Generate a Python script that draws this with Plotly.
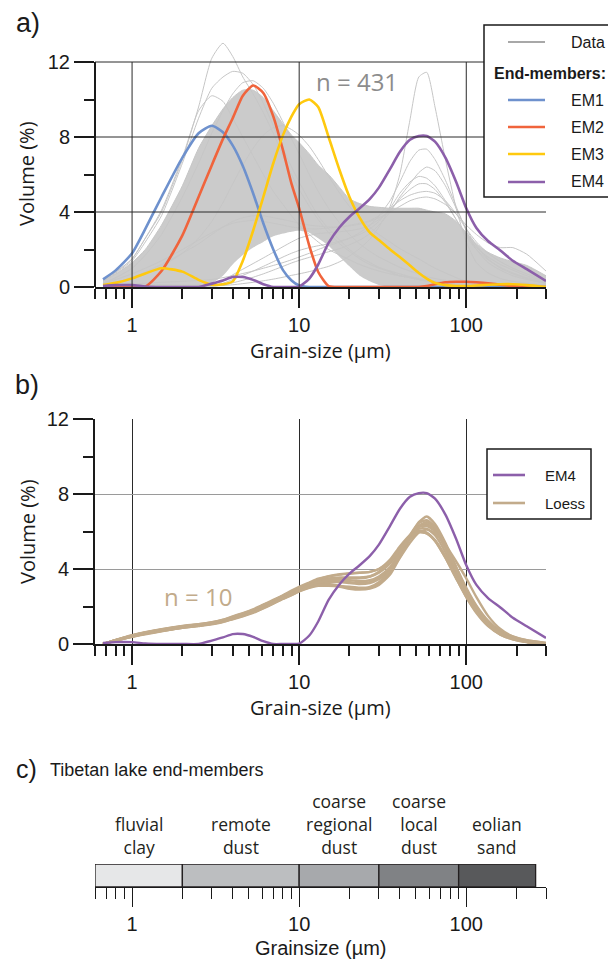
import numpy as np
import plotly.graph_objects as go

# ---------------- data ----------------
GRAIN_UM = [0.67, 0.8, 1.0, 1.2, 1.5, 2.0, 2.5, 3.0, 3.5, 4.0,
            4.6, 5.3, 6.1, 7.0, 8.0, 9.0, 10, 11.5, 13, 15,
            17.5, 20, 23, 26.5, 30, 35, 40, 46, 52, 58,
            65, 75, 87, 100, 115, 135, 160, 190, 230, 300]

EM1 = [0.41, 0.9, 1.8, 3.1, 4.8, 6.9, 8.2, 8.6, 8.25, 7.55,
       6.45, 5.0, 3.4, 2.0, 0.9, 0.35, 0.08, 0, 0, 0,
       0, 0, 0, 0, 0, 0, 0, 0, 0, 0,
       0, 0, 0.02, 0.03, 0.03, 0.02, 0.01, 0, 0, 0]
EM2 = [0, 0, 0, 0.02, 0.85, 2.75, 4.8, 6.5, 7.9, 9.0,
       10.2, 10.75, 10.35, 9.1, 7.3, 5.5, 4.2, 2.2, 0.8, 0.05,
       0, 0, 0, 0, 0, 0, 0, 0, 0, 0.05,
       0.15, 0.25, 0.28, 0.28, 0.25, 0.2, 0.12, 0.05, 0, 0]
EM3 = [0.1, 0.22, 0.46, 0.72, 1.0, 0.82, 0.38, 0.12, 0.15, 0.3,
       1.4, 3.0, 4.8, 6.6, 8.1, 9.1, 9.75, 10.0, 9.6, 8.0,
       6.2, 4.8, 3.7, 2.9, 2.5, 2.0, 1.6, 1.15, 0.75, 0.45,
       0.22, 0.1, 0.05, 0.05, 0.08, 0.12, 0.15, 0.15, 0.1, 0.0]
EM4 = [0.05, 0.1, 0.1, 0.03, 0, 0, 0, 0.18, 0.35, 0.53,
       0.53, 0.38, 0.15, 0, 0, 0, 0.02, 0.45, 1.2, 2.35,
       3.2, 3.75, 4.2, 4.7, 5.3, 6.3, 7.2, 7.85, 8.05, 8.05,
       7.75, 6.9, 5.6, 4.2, 3.15, 2.45, 1.95, 1.4, 0.95, 0.32]

# dense core of the 431 measured samples (upper / lower outline)
DATA_UPPER = [0.3, 0.7, 1.3, 2.0, 3.3, 5.4, 7.4, 8.6, 9.5, 10.1,
              10.5, 10.5, 10.1, 9.4, 8.7, 8.1, 7.7, 7.1, 6.5, 6.0,
              5.3, 4.7, 4.45, 4.3, 4.25, 4.2, 4.2, 4.2, 4.2, 4.1,
              4.0, 3.9, 3.5, 2.9, 2.3, 1.85, 1.55, 1.35, 1.15, 0.6]
DATA_LOWER = [0, 0, 0, 0, 0, 0, 0, 0.2, 0.6, 1.2,
              1.7, 2.1, 2.4, 2.7, 2.85, 2.95, 3.0, 2.9, 2.6, 2.2,
              1.6, 1.1, 0.6, 0.3, 0.1, 0, 0, 0, 0, 0,
              0, 0, 0, 0, 0, 0, 0, 0, 0, 0]
# individual sample curves standing out of the core
SAMPLE_01 = [0.35, 0.8, 1.5, 2.6, 4.0, 6.8, 9.6, 12.2, 13.0, 12.3,
             11.2, 10.3, 9.3, 8.2, 7.0, 6.0, 5.2, 4.3, 3.6, 2.9,
             2.3, 1.9, 1.5, 1.2, 1.0, 0.8, 0.6, 0.5, 0.4, 0.3,
             0.25, 0.2, 0.15, 0.1, 0.05, 0, 0, 0, 0, 0]
SAMPLE_02 = [0.3, 0.75, 1.4, 2.4, 3.8, 6.6, 9.0, 10.6, 11.2, 11.5,
             11.4, 10.8, 9.8, 8.6, 7.4, 6.4, 5.6, 4.6, 3.8, 3.1,
             2.5, 2.0, 1.6, 1.3, 1.05, 0.85, 0.7, 0.55, 0.45, 0.35,
             0.3, 0.2, 0.15, 0.1, 0.05, 0, 0, 0, 0, 0]
SAMPLE_03 = [0.35, 0.8, 1.5, 2.6, 4.1, 6.9, 9.4, 10.2, 9.9, 9.0,
             8.0, 7.0, 6.0, 5.1, 4.4, 3.8, 3.3, 2.8, 2.4, 2.0,
             1.7, 1.45, 1.2, 1.0, 0.85, 0.7, 0.6, 0.5, 0.4, 0.35,
             0.3, 0.25, 0.2, 0.15, 0.1, 0.05, 0, 0, 0, 0]
SAMPLE_04 = [0.2, 0.5, 1.0, 1.7, 2.8, 4.8, 6.6, 8.2, 9.4, 10.3,
             10.9, 11.0, 10.6, 9.8, 8.8, 7.9, 7.1, 6.0, 5.1, 4.2,
             3.4, 2.8, 2.3, 1.9, 1.6, 1.3, 1.05, 0.85, 0.7, 0.55,
             0.45, 0.35, 0.25, 0.15, 0.1, 0.05, 0, 0, 0, 0]
SAMPLE_05 = [0.1, 0.2, 0.4, 0.7, 1.1, 1.8, 2.6, 3.5, 4.5, 5.5,
             6.5, 7.4, 8.1, 8.5, 8.6, 8.4, 8.1, 7.5, 6.8, 5.9,
             5.0, 4.3, 3.7, 3.2, 2.8, 2.4, 2.05, 1.75, 1.5, 1.25,
             1.0, 0.75, 0.5, 0.3, 0.2, 0.1, 0.05, 0, 0, 0]
SAMPLE_06 = [0.05, 0.08, 0.1, 0.12, 0.12, 0.1, 0.1, 0.15, 0.35, 0.65,
             0.95, 1.25, 1.55, 1.85, 2.15, 2.4, 2.6, 2.75, 2.85, 2.9,
             2.95, 3.0, 3.1, 3.3, 3.6, 4.1, 4.7, 5.2, 5.5, 5.5,
             5.2, 4.5, 3.6, 2.8, 2.1, 1.6, 1.2, 0.9, 0.6, 0.3]
SAMPLE_07 = [0.03, 0.05, 0.07, 0.08, 0.08, 0.07, 0.06, 0.08, 0.2, 0.4,
             0.62, 0.85, 1.1, 1.35, 1.6, 1.8, 1.95, 2.1, 2.2, 2.3,
             2.45, 2.6, 2.8, 3.1, 3.5, 4.2, 5.0, 5.6, 5.9, 5.8,
             5.4, 4.6, 3.6, 2.7, 2.0, 1.45, 1.05, 0.75, 0.5, 0.25]
SAMPLE_08 = [0.02, 0.03, 0.04, 0.05, 0.05, 0.05, 0.04, 0.05, 0.1, 0.22,
             0.36, 0.52, 0.7, 0.9, 1.1, 1.28, 1.42, 1.58, 1.72, 1.88,
             2.05, 2.25, 2.5, 2.85, 3.3, 4.0, 4.8, 5.5, 6.1, 6.4,
             6.2, 5.4, 4.2, 3.1, 2.2, 1.5, 1.0, 0.7, 0.45, 0.2]
SAMPLE_09 = [0.02, 0.03, 0.04, 0.05, 0.05, 0.05, 0.05, 0.06, 0.08, 0.12,
             0.18, 0.25, 0.33, 0.42, 0.52, 0.62, 0.7, 0.82, 0.95, 1.1,
             1.35, 1.65, 2.05, 2.55, 3.2, 4.3, 6.0, 8.9, 11.2, 11.45,
             9.6, 6.8, 4.2, 2.4, 1.3, 0.75, 0.45, 0.3, 0.2, 0.1]
SAMPLE_10 = [0.05, 0.1, 0.15, 0.2, 0.25, 0.3, 0.35, 0.4, 0.5, 0.6,
             0.72, 0.85, 1.0, 1.15, 1.3, 1.45, 1.6, 1.8, 2.0, 2.2,
             2.4, 2.6, 2.9, 3.3, 3.8, 4.6, 5.6, 6.7, 7.3, 7.35,
             6.8, 5.7, 4.3, 3.0, 2.0, 1.3, 0.9, 0.6, 0.4, 0.2]
SAMPLE_11 = [0.2, 0.4, 0.7, 1.0, 1.4, 2.0, 2.5, 2.9, 3.2, 3.4,
             3.5, 3.55, 3.5, 3.4, 3.3, 3.2, 3.15, 3.1, 3.1, 3.15,
             3.2, 3.3, 3.4, 3.55, 3.8, 4.2, 4.6, 4.9, 5.05, 5.1,
             5.0, 4.6, 3.9, 3.1, 2.4, 1.8, 1.35, 1.0, 0.7, 0.35]
SAMPLE_12 = [0.1, 0.25, 0.5, 0.8, 1.2, 1.8, 2.3, 2.8, 3.2, 3.5,
             3.7, 3.8, 3.8, 3.7, 3.6, 3.5, 3.4, 3.3, 3.25, 3.2,
             3.2, 3.25, 3.35, 3.5, 3.7, 4.0, 4.3, 4.6, 4.75, 4.8,
             4.7, 4.4, 3.9, 3.3, 2.8, 2.35, 2.1, 2.1, 1.75, 0.85]
SAMPLES = [SAMPLE_01, SAMPLE_02, SAMPLE_03, SAMPLE_04, SAMPLE_05, SAMPLE_06,
           SAMPLE_07, SAMPLE_08, SAMPLE_09, SAMPLE_10, SAMPLE_11, SAMPLE_12]

# loess samples (panel b)
LOESS_01 = [0.0, 0.2, 0.45, 0.6, 0.75, 0.92, 1.02, 1.12, 1.25, 1.42,
            1.6, 1.8, 2.05, 2.3, 2.55, 2.8, 3.0, 3.25, 3.45, 3.6,
            3.7, 3.75, 3.8, 3.85, 4.0, 4.5, 5.2, 5.8, 6.05, 5.95,
            5.5, 4.6, 3.5, 2.5, 1.7, 1.0, 0.55, 0.3, 0.15, 0.0]
LOESS_02 = [0.0, 0.18, 0.4, 0.55, 0.7, 0.88, 0.98, 1.08, 1.2, 1.35,
            1.52, 1.7, 1.95, 2.2, 2.45, 2.65, 2.85, 3.05, 3.2, 3.2,
            3.1, 3.0, 2.95, 3.0, 3.2, 3.8, 4.7, 5.7, 6.5, 6.8,
            6.4, 5.4, 4.1, 2.9, 1.9, 1.1, 0.6, 0.3, 0.12, 0.0]
LOESS_03 = [0.0, 0.2, 0.42, 0.58, 0.72, 0.9, 1.0, 1.1, 1.22, 1.38,
            1.55, 1.75, 2.0, 2.25, 2.5, 2.72, 2.92, 3.12, 3.3, 3.35,
            3.35, 3.3, 3.25, 3.3, 3.5, 4.0, 4.8, 5.7, 6.25, 6.4,
            6.1, 5.2, 4.0, 2.9, 2.0, 1.2, 0.65, 0.35, 0.15, 0.0]
LOESS_04 = [0.0, 0.22, 0.46, 0.62, 0.78, 0.95, 1.05, 1.15, 1.28, 1.45,
            1.62, 1.82, 2.08, 2.32, 2.58, 2.8, 3.0, 3.2, 3.38, 3.5,
            3.55, 3.55, 3.55, 3.6, 3.8, 4.3, 5.0, 5.75, 6.15, 6.15,
            5.8, 4.9, 3.7, 2.6, 1.75, 1.0, 0.5, 0.25, 0.1, 0.0]
LOESS_05 = [0.0, 0.17, 0.38, 0.52, 0.68, 0.86, 0.96, 1.05, 1.17, 1.32,
            1.48, 1.66, 1.9, 2.15, 2.4, 2.6, 2.8, 3.0, 3.1, 3.1,
            3.05, 2.95, 2.9, 2.95, 3.15, 3.7, 4.6, 5.6, 6.3, 6.5,
            6.2, 5.3, 4.1, 3.0, 2.05, 1.25, 0.7, 0.4, 0.2, 0.05]
LOESS_06 = [0.0, 0.19, 0.41, 0.56, 0.71, 0.89, 0.99, 1.09, 1.2, 1.36,
            1.53, 1.72, 1.97, 2.22, 2.47, 2.68, 2.88, 3.08, 3.25, 3.3,
            3.3, 3.25, 3.2, 3.25, 3.45, 3.9, 4.6, 5.4, 5.95, 6.1,
            5.9, 5.3, 4.4, 3.5, 2.5, 1.5, 0.8, 0.4, 0.2, 0.05]
LOESS_07 = [0.0, 0.21, 0.44, 0.6, 0.76, 0.93, 1.03, 1.13, 1.26, 1.42,
            1.6, 1.8, 2.06, 2.3, 2.55, 2.78, 2.98, 3.18, 3.35, 3.45,
            3.5, 3.5, 3.5, 3.6, 3.85, 4.4, 5.1, 5.7, 6.0, 5.9,
            5.5, 4.6, 3.5, 2.5, 1.65, 0.95, 0.5, 0.25, 0.1, 0.0]
LOESS_08 = [0.0, 0.2, 0.43, 0.58, 0.73, 0.91, 1.01, 1.11, 1.23, 1.39,
            1.57, 1.77, 2.02, 2.27, 2.52, 2.74, 2.94, 3.14, 3.3, 3.4,
            3.4, 3.4, 3.35, 3.4, 3.6, 4.1, 4.9, 5.8, 6.25, 6.3,
            6.0, 5.1, 3.9, 2.8, 1.9, 1.1, 0.6, 0.3, 0.12, 0.0]
LOESS_09 = [0.0, 0.18, 0.39, 0.54, 0.69, 0.87, 0.97, 1.07, 1.19, 1.34,
            1.5, 1.68, 1.92, 2.17, 2.42, 2.62, 2.82, 3.02, 3.15, 3.15,
            3.1, 3.05, 3.0, 3.05, 3.3, 3.9, 4.8, 5.8, 6.45, 6.6,
            6.25, 5.3, 4.0, 2.85, 1.9, 1.1, 0.6, 0.3, 0.12, 0.0]
LOESS_10 = [0.0, 0.22, 0.47, 0.63, 0.79, 0.96, 1.06, 1.17, 1.3, 1.47,
            1.65, 1.85, 2.1, 2.35, 2.6, 2.85, 3.05, 3.28, 3.48, 3.62,
            3.72, 3.78, 3.8, 3.85, 4.0, 4.4, 5.0, 5.6, 5.95, 5.9,
            5.55, 4.7, 3.6, 2.6, 1.75, 1.05, 0.55, 0.28, 0.12, 0.0]
LOESS = [LOESS_01, LOESS_02, LOESS_03, LOESS_04, LOESS_05,
         LOESS_06, LOESS_07, LOESS_08, LOESS_09, LOESS_10]

# panel c
ZONE_LIMITS_UM = [0.6, 2, 10, 30, 90, 260]
ZONE_NAMES = ["fluvial<br>clay", "remote<br>dust", "coarse<br>regional<br>dust",
              "coarse<br>local<br>dust", "eolian<br>sand"]
ZONE_COLORS = ["#e6e7e8", "#bcbec0", "#a7a9ac", "#808285", "#58595b"]

MAJOR_TICKS = [1, 10, 100]
MAJOR_LABELS = ["1", "10", "100"]
MINOR_TICKS = [0.6, 0.7, 0.8, 0.9, 2, 3, 4, 5, 6, 7, 8, 9,
               20, 30, 40, 50, 60, 70, 80, 90, 200, 300]
Y_MAJOR = [0, 4, 8, 12]
Y_MINOR = [2, 6, 10]

# ---------------- styling ----------------
W, H = 608, 961
INK = "#1a1a1a"
C_EM1, C_EM2, C_EM3, C_EM4 = "#6e91cd", "#f0643c", "#ffc90e", "#8c5faa"
C_GRAY_FILL, C_GRAY_LINE = "#cbcbcb", "#c6c6c6"
C_LOESS = "#c2ab8b"
TICK_FONT = dict(family="Liberation Sans, Arial, sans-serif", size=20, color=INK)
TITLE_FONT = dict(family="Open Sans, sans-serif", size=20, color=INK)
XMIN, XMAX = 0.6, 300
LOGR = [np.log10(XMIN), np.log10(XMAX)]


def px(x):
    return x / W


def py(y):
    return 1 - y / H


def xfrac(v):
    return (np.log10(v) - LOGR[0]) / (LOGR[1] - LOGR[0])


X_DOM = [px(95), px(546)]
A_TOP = 13.4          # a little head-room so the tallest sample is not cut
A_DOM = [py(287), py(287 - A_TOP * 18.75)]
B_DOM = [py(644), py(419)]
C_DOM = [py(887), py(864)]

fig = go.Figure()
SPL = dict(shape="spline", smoothing=0.6)

# ---- panel a ----
fig.add_trace(go.Scatter(x=GRAIN_UM, y=DATA_LOWER, mode="lines",
                         line=dict(width=0, color=C_GRAY_FILL, **SPL),
                         hoverinfo="skip", showlegend=False, xaxis="x", yaxis="y"))
fig.add_trace(go.Scatter(x=GRAIN_UM, y=DATA_UPPER, mode="lines", fill="tonexty",
                         fillcolor=C_GRAY_FILL, name="Data",
                         line=dict(width=1, color=C_GRAY_LINE, **SPL),
                         showlegend=False, xaxis="x", yaxis="y"))
for s in SAMPLES:
    fig.add_trace(go.Scatter(x=GRAIN_UM, y=s, mode="lines",
                             line=dict(width=1, color=C_GRAY_LINE, **SPL),
                             showlegend=False, xaxis="x", yaxis="y"))
for name, ys, col in [("EM1", EM1, C_EM1), ("EM2", EM2, C_EM2),
                      ("EM3", EM3, C_EM3), ("EM4", EM4, C_EM4)]:
    fig.add_trace(go.Scatter(x=GRAIN_UM, y=ys, mode="lines", name=name,
                             line=dict(width=2.6, color=col, **SPL),
                             showlegend=False, xaxis="x", yaxis="y"))

# ---- panel b ----
for s in LOESS:
    fig.add_trace(go.Scatter(x=GRAIN_UM, y=s, mode="lines", name="Loess",
                             line=dict(width=2.4, color=C_LOESS, **SPL),
                             showlegend=False, xaxis="x2", yaxis="y2"))
fig.add_trace(go.Scatter(x=GRAIN_UM, y=EM4, mode="lines", name="EM4",
                         line=dict(width=2.4, color=C_EM4, **SPL),
                         showlegend=False, xaxis="x2", yaxis="y2"))

# ---- panel c ----
widths = [ZONE_LIMITS_UM[i + 1] - ZONE_LIMITS_UM[i] for i in range(len(ZONE_NAMES))]
fig.add_trace(go.Bar(y=[0] * len(widths), x=widths, base=ZONE_LIMITS_UM[:-1],
                     orientation="h", width=1, cliponaxis=False,
                     marker=dict(color=ZONE_COLORS, line=dict(color="#231f20", width=1.3)),
                     showlegend=False, xaxis="x3", yaxis="y3"))


def xaxis(anchor, lw, tw, grid):
    return dict(type="log", range=LOGR, domain=X_DOM, anchor=anchor, automargin=False,
                showline=True, linewidth=lw, linecolor=INK,
                ticks="outside", tickmode="array", tickvals=MAJOR_TICKS,
                ticktext=MAJOR_LABELS, ticklen=19, tickwidth=tw, tickcolor=INK,
                tickfont=TICK_FONT, showgrid=grid, gridcolor="#2a2a2a", gridwidth=1,
                zeroline=False, fixedrange=True,
                minor=dict(tickmode="array", tickvals=MINOR_TICKS, ticks="outside",
                           ticklen=10 if lw > 1 else 11, tickwidth=tw, tickcolor=INK,
                           showgrid=False))


fig.update_layout(
    width=W, height=H, margin=dict(l=0, r=0, t=0, b=0, pad=0, autoexpand=False),
    paper_bgcolor="white", plot_bgcolor="rgba(0,0,0,0)", showlegend=False,
    xaxis=xaxis("y", 2, 2, False),
    yaxis=dict(range=[0, A_TOP], domain=A_DOM, anchor="x", showline=False, automargin=False,
               ticks="outside", tickmode="array", tickvals=Y_MAJOR, ticklen=20,
               tickwidth=2, tickcolor=INK, tickfont=TICK_FONT, showgrid=False,
               zeroline=False, fixedrange=True,
               minor=dict(tickmode="array", tickvals=Y_MINOR, ticks="outside",
                          ticklen=10, tickwidth=2, tickcolor=INK, showgrid=False)),
    xaxis2=xaxis("y2", 2, 2, True),
    yaxis2=dict(range=[0, 12], domain=B_DOM, anchor="x2", showline=True, linewidth=2,
                automargin=False,
                linecolor=INK, ticks="outside", tickmode="array", tickvals=Y_MAJOR,
                ticklen=20, tickwidth=2, tickcolor=INK, tickfont=TICK_FONT,
                showgrid=True, gridcolor="#9a9a9a", gridwidth=1, zeroline=False,
                fixedrange=True,
                minor=dict(tickmode="array", tickvals=Y_MINOR, ticks="outside",
                           ticklen=10, tickwidth=2, tickcolor=INK, showgrid=False)),
    xaxis3=xaxis("y3", 1, 1, False),
    yaxis3=dict(range=[-0.5, 0.5], domain=C_DOM, anchor="x3", visible=False,
                automargin=False, fixedrange=True),
)

shapes = []
# panel a: y axis line (0..12) and grid drawn over the grey sample cloud
shapes.append(dict(type="line", xref="x domain", yref="y", x0=0, x1=0, y0=0, y1=12,
                   line=dict(color=INK, width=2), layer="above"))
for v in [4, 8, 12]:
    shapes.append(dict(type="line", xref="x domain", yref="y", x0=0, x1=1, y0=v, y1=v,
                       line=dict(color="#2a2a2a", width=1), layer="above"))
for v in MAJOR_TICKS:
    shapes.append(dict(type="line", xref="x domain", yref="y", x0=xfrac(v), x1=xfrac(v),
                       y0=0, y1=12, line=dict(color="#2a2a2a", width=1), layer="above"))

# legend a
shapes.append(dict(type="rect", xref="paper", yref="paper", x0=px(484), x1=1.02,
                   y0=py(197), y1=py(25), line=dict(color=INK, width=1.5),
                   fillcolor="white", layer="above"))
LEG_A = [("Data", "#a8a8a8", 42), ("EM1", C_EM1, 100), ("EM2", C_EM2, 127),
         ("EM3", C_EM3, 154), ("EM4", C_EM4, 182)]
for _, col, yy in LEG_A:
    shapes.append(dict(type="line", xref="paper", yref="paper", x0=px(508), x1=px(545),
                       y0=py(yy), y1=py(yy),
                       line=dict(color=col, width=2.6 if col != "#a8a8a8" else 1.8),
                       layer="above"))
# legend b
shapes.append(dict(type="rect", xref="paper", yref="paper", x0=px(487), x1=px(591),
                   y0=py(519), y1=py(449), line=dict(color=INK, width=1.5),
                   fillcolor="white", layer="above"))
LEG_B = [("EM4", C_EM4, 475), ("Loess", C_LOESS, 503)]
for _, col, yy in LEG_B:
    shapes.append(dict(type="line", xref="paper", yref="paper", x0=px(493), x1=px(525),
                       y0=py(yy), y1=py(yy), line=dict(color=col, width=2.6), layer="above"))
fig.update_layout(shapes=shapes)

LEG_FONT = dict(family="Liberation Sans, Arial, sans-serif", size=16, color=INK)
ann = []


def text(x, y, s, font, xanchor="center", yanchor="middle", angle=0, **kw):
    ann.append(dict(x=px(x), y=py(y), xref="paper", yref="paper", text=s, showarrow=False,
                    font=font, xanchor=xanchor, yanchor=yanchor, textangle=angle, **kw))


for lab, _, yy in LEG_A:
    text(569, yy, lab, LEG_FONT, xanchor="left")
text(492, 73, "<b>End-members:</b>", LEG_FONT, xanchor="left")
for lab, _, yy in LEG_B:
    text(543, yy, lab, dict(LEG_FONT, size=15), xanchor="left")

PANEL_FONT = dict(family="Liberation Sans, Arial, sans-serif", size=27, color=INK)
text(28, 23, "a)", PANEL_FONT)
text(27, 385, "b)", PANEL_FONT)
text(26, 769, "c)", dict(PANEL_FONT, size=25))
text(48, 770, "Tibetan lake end-members",
     dict(family="Liberation Sans, Arial, sans-serif", size=18, color=INK), xanchor="left")

text(27, 174, "Volume (%)", TITLE_FONT, angle=-90)
text(27, 532, "Volume (%)", TITLE_FONT, angle=-90)
text(320, 350, "Grain-size (µm)", TITLE_FONT)
text(320, 707, "Grain-size (µm)", TITLE_FONT)
text(321, 948, "Grainsize (µm)", dict(TICK_FONT, size=20))

text(357, 81, "n = 431", dict(family="Open Sans, sans-serif", size=24, color="#8c8c8c"))
text(198, 596, "n = 10", dict(family="Open Sans, sans-serif", size=24, color=C_LOESS))

ZONE_FONT = dict(family="Open Sans, sans-serif", size=17.5, color="#231f20")
for i, name in enumerate(ZONE_NAMES):
    c = np.sqrt(ZONE_LIMITS_UM[i] * ZONE_LIMITS_UM[i + 1])
    ann.append(dict(x=np.log10(c), y=0.5, xref="x3", yref="y3", text=name,
                    showarrow=False, font=ZONE_FONT, xanchor="center", yanchor="bottom",
                    yshift=3))

fig.update_layout(annotations=ann)
fig.write_html("out.html", config={"displayModeBar": False})
